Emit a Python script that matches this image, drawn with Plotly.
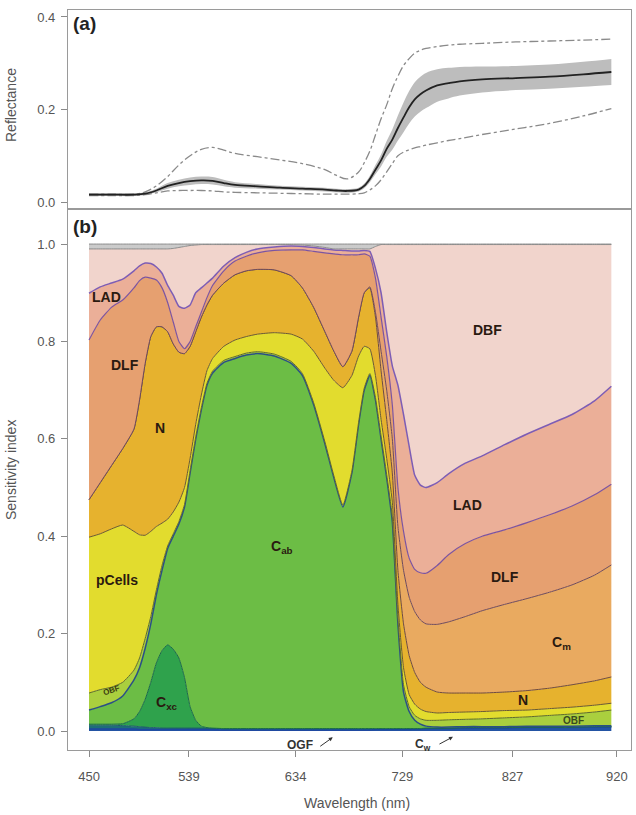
import plotly.graph_objects as go

# ---------------- Panel (a): reflectance ----------------
wl_a = [450, 470, 490, 500, 510, 520, 530, 540, 550, 560, 570, 580, 600, 620, 640, 660, 670, 680,
        690, 695, 700, 705, 710, 715, 720, 725, 730, 735, 740, 745, 750, 760, 770, 780, 800, 830,
        860, 890, 915]
refl_mean = [0.016, 0.016, 0.016, 0.018, 0.025, 0.035, 0.041, 0.045, 0.047, 0.046, 0.041, 0.037,
             0.034, 0.031, 0.029, 0.027, 0.025, 0.024, 0.027, 0.035, 0.050, 0.070, 0.090, 0.115,
             0.135, 0.160, 0.183, 0.205, 0.222, 0.233, 0.241, 0.252, 0.257, 0.261, 0.265, 0.268,
             0.271, 0.276, 0.281]
refl_sd = [0.003, 0.003, 0.003, 0.003, 0.004, 0.006, 0.007, 0.008, 0.008, 0.008, 0.007, 0.006,
           0.005, 0.004, 0.004, 0.004, 0.004, 0.004, 0.004, 0.005, 0.007, 0.010, 0.013, 0.017,
           0.022, 0.027, 0.032, 0.035, 0.037, 0.038, 0.038, 0.035, 0.033, 0.031, 0.028, 0.026,
           0.026, 0.027, 0.028]
refl_max = [0.017, 0.017, 0.017, 0.022, 0.035, 0.055, 0.080, 0.100, 0.114, 0.118, 0.112, 0.105,
            0.098, 0.091, 0.083, 0.070, 0.058, 0.050, 0.065, 0.085, 0.110, 0.145, 0.180, 0.210,
            0.245, 0.272, 0.295, 0.310, 0.322, 0.328, 0.332, 0.336, 0.339, 0.341, 0.343, 0.346,
            0.348, 0.350, 0.352]
refl_min = [0.014, 0.014, 0.014, 0.016, 0.020, 0.024, 0.025, 0.025, 0.025, 0.024, 0.022, 0.021,
            0.020, 0.019, 0.018, 0.017, 0.017, 0.017, 0.018, 0.020, 0.026, 0.035, 0.048, 0.065,
            0.083, 0.100, 0.108, 0.113, 0.117, 0.120, 0.123, 0.128, 0.133, 0.137, 0.146, 0.158,
            0.170, 0.186, 0.202]

# ---------------- Panel (b): cumulative sensitivity indices (upper edge of each layer) ----
wl_b = [450, 460, 470, 480, 490, 495, 500, 505, 510, 515,
        520, 525, 530, 535, 540, 545, 550, 555, 560, 570,
        580, 590, 600, 615, 630, 640, 650, 660, 668, 676,
        684, 690, 695, 700, 705, 710, 715, 720, 725, 730,
        735, 740, 745, 750, 760, 770, 785, 800, 820, 840,
        860, 880, 900, 915]

top_cw = [0.004, 0.004, 0.004, 0.004, 0.004, 0.003, 0.003, 0.003, 0.003, 0.003,
          0.003, 0.003, 0.003, 0.003, 0.003, 0.003, 0.003, 0.003, 0.003, 0.002,
          0.002, 0.002, 0.002, 0.002, 0.002, 0.002, 0.002, 0.002, 0.002, 0.002,
          0.002, 0.002, 0.002, 0.002, 0.003, 0.003, 0.003, 0.003, 0.003, 0.003,
          0.003, 0.004, 0.004, 0.005, 0.005, 0.005, 0.006, 0.006, 0.006, 0.007,
          0.007, 0.007, 0.008, 0.008]
top_ogf = [0.012, 0.012, 0.012, 0.011, 0.010, 0.009, 0.008, 0.007, 0.007, 0.006,
           0.006, 0.006, 0.006, 0.006, 0.006, 0.006, 0.006, 0.006, 0.006, 0.005,
           0.005, 0.005, 0.005, 0.005, 0.005, 0.005, 0.005, 0.005, 0.005, 0.005,
           0.005, 0.005, 0.005, 0.005, 0.005, 0.005, 0.005, 0.005, 0.005, 0.005,
           0.005, 0.005, 0.005, 0.006, 0.006, 0.006, 0.007, 0.007, 0.007, 0.008,
           0.008, 0.008, 0.009, 0.009]
top_cxc = [0.014, 0.014, 0.014, 0.015, 0.025, 0.040, 0.065, 0.100, 0.140, 0.165,
           0.177, 0.168, 0.150, 0.110, 0.050, 0.022, 0.010, 0.007, 0.006, 0.005,
           0.005, 0.005, 0.005, 0.005, 0.005, 0.005, 0.005, 0.005, 0.005, 0.005,
           0.005, 0.005, 0.005, 0.005, 0.005, 0.005, 0.005, 0.005, 0.005, 0.005,
           0.005, 0.005, 0.005, 0.006, 0.006, 0.006, 0.007, 0.007, 0.007, 0.008,
           0.008, 0.008, 0.009, 0.009]
top_cab = [0.043, 0.050, 0.058, 0.072, 0.105, 0.130, 0.170, 0.220, 0.280, 0.330,
           0.375, 0.400, 0.425, 0.460, 0.530, 0.600, 0.660, 0.710, 0.735, 0.757,
           0.765, 0.772, 0.775, 0.770, 0.755, 0.730, 0.670, 0.590, 0.520, 0.460,
           0.530, 0.630, 0.700, 0.730, 0.680, 0.600, 0.520, 0.430, 0.220, 0.080,
           0.040, 0.022, 0.014, 0.010, 0.008, 0.008, 0.009, 0.009, 0.009, 0.010,
           0.010, 0.010, 0.011, 0.011]
top_obf = [0.078, 0.085, 0.090, 0.100, 0.125, 0.150, 0.190, 0.235, 0.290, 0.340,
           0.380, 0.405, 0.430, 0.465, 0.535, 0.604, 0.664, 0.714, 0.739, 0.761,
           0.769, 0.776, 0.779, 0.774, 0.759, 0.734, 0.674, 0.594, 0.524, 0.464,
           0.534, 0.634, 0.704, 0.734, 0.685, 0.606, 0.527, 0.440, 0.232, 0.095,
           0.050, 0.032, 0.025, 0.022, 0.022, 0.023, 0.024, 0.025, 0.027, 0.029,
           0.032, 0.035, 0.039, 0.043]
top_pcells = [0.398, 0.405, 0.415, 0.423, 0.410, 0.403, 0.402, 0.410, 0.420, 0.427,
              0.435, 0.450, 0.470, 0.500, 0.560, 0.630, 0.690, 0.740, 0.765, 0.790,
              0.803, 0.810, 0.815, 0.818, 0.815, 0.805, 0.780, 0.745, 0.720, 0.705,
              0.730, 0.770, 0.790, 0.785, 0.730, 0.640, 0.560, 0.470, 0.260, 0.130,
              0.075, 0.055, 0.045, 0.040, 0.037, 0.038, 0.039, 0.040, 0.042, 0.043,
              0.046, 0.049, 0.053, 0.057]
top_n = [0.475, 0.510, 0.545, 0.580, 0.620, 0.680, 0.755, 0.810, 0.830, 0.830,
         0.820, 0.795, 0.778, 0.775, 0.790, 0.820, 0.850, 0.875, 0.895, 0.920,
         0.937, 0.945, 0.948, 0.947, 0.935, 0.910, 0.870, 0.820, 0.780, 0.748,
         0.780, 0.850, 0.900, 0.910, 0.850, 0.740, 0.640, 0.530, 0.330, 0.220,
         0.155, 0.120, 0.100, 0.090, 0.080, 0.078, 0.078, 0.078, 0.080, 0.083,
         0.088, 0.095, 0.103, 0.111]
top_cm = [0.475, 0.510, 0.545, 0.580, 0.620, 0.680, 0.755, 0.810, 0.830, 0.830,
          0.820, 0.795, 0.778, 0.775, 0.790, 0.820, 0.850, 0.875, 0.895, 0.920,
          0.937, 0.945, 0.948, 0.947, 0.935, 0.910, 0.870, 0.820, 0.780, 0.748,
          0.780, 0.850, 0.900, 0.912, 0.860, 0.780, 0.700, 0.600, 0.420, 0.330,
          0.275, 0.245, 0.228, 0.220, 0.219, 0.224, 0.235, 0.247, 0.260, 0.272,
          0.285, 0.300, 0.320, 0.341]
top_dlf = [0.803, 0.844, 0.870, 0.885, 0.910, 0.925, 0.932, 0.930, 0.926, 0.910,
           0.880, 0.840, 0.800, 0.785, 0.800, 0.830, 0.860, 0.890, 0.915, 0.945,
           0.965, 0.975, 0.982, 0.987, 0.988, 0.988, 0.985, 0.982, 0.980, 0.978,
           0.978, 0.978, 0.980, 0.975, 0.930, 0.850, 0.770, 0.670, 0.500, 0.410,
           0.355, 0.332, 0.325, 0.324, 0.340, 0.362, 0.385, 0.400, 0.413, 0.428,
           0.444, 0.462, 0.485, 0.507]
top_lad = [0.899, 0.912, 0.920, 0.928, 0.945, 0.955, 0.961, 0.960, 0.953, 0.940,
           0.915, 0.895, 0.872, 0.868, 0.875, 0.900, 0.910, 0.920, 0.930, 0.955,
           0.972, 0.983, 0.990, 0.994, 0.996, 0.995, 0.993, 0.990, 0.988, 0.987,
           0.986, 0.986, 0.987, 0.985, 0.950, 0.900, 0.820, 0.750, 0.710, 0.650,
           0.585, 0.525, 0.505, 0.500, 0.510, 0.528, 0.550, 0.565, 0.588, 0.610,
           0.630, 0.650, 0.678, 0.708]
top_dbf = [0.990, 0.990, 0.990, 0.990, 0.990, 0.990, 0.990, 0.990, 0.990, 0.990,
           0.990, 0.991, 0.993, 0.995, 0.997, 0.998, 0.999, 0.999, 0.999, 0.999,
           0.999, 0.999, 0.999, 0.999, 0.999, 0.998, 0.996, 0.993, 0.990, 0.990,
           0.990, 0.990, 0.990, 0.990, 0.995, 0.999, 0.999, 0.999, 0.999, 0.999,
           0.999, 0.999, 0.999, 0.999, 0.999, 0.999, 0.999, 0.999, 0.999, 0.999,
           0.999, 0.999, 0.999, 0.999]
top_other = [1.0] * len(wl_b)

layer_names = ["Cw", "OGF", "Cxc", "Cab", "OBF", "pCells", "N", "Cm", "DLF", "LAD", "DBF", "other"]
layer_tops = [top_cw, top_ogf, top_cxc, top_cab, top_obf, top_pcells, top_n, top_cm,
              top_dlf, top_lad, top_dbf, top_other]
layer_fill = ["#2353A3", "#1E6E78", "#2FA24C", "#6CBD45", "#AACF3E", "#E2DC2E", "#E6B22E",
              "#E9AA60", "#E6A070", "#EBAF98", "#F1D4CC", "#CBCBCB"]
layer_line = ["#1F47A0", "#205A6E", "#1B6A4A", "#2A4F86", "#5E6B2A", "#6A5A30", "#6E4A3E",
              "#6E4A5A", "#7C54A0", "#7D5DB5", "#8C8C8C", "#8C8C8C"]
layer_width = [1.5, 1.0, 1.0, 1.5, 1.0, 1.0, 1.0, 1.0, 1.2, 1.5, 1.0, 1.0]

x_ticks = [450, 539, 634, 729, 827, 920]
y_ticks_a = [0.0, 0.2, 0.4]
y_ticks_b = [0.0, 0.2, 0.4, 0.6, 0.8, 1.0]

FONT = "Liberation Sans, Arial, sans-serif"
fig = go.Figure()

# ----- panel a traces -----
upper = [m + s for m, s in zip(refl_mean, refl_sd)]
lower = [m - s for m, s in zip(refl_mean, refl_sd)]
fig.add_trace(go.Scatter(x=wl_a, y=upper, mode="lines", line=dict(width=0, color="#BDBDBD"),
                         line_shape="spline", showlegend=False, xaxis="x", yaxis="y"))
fig.add_trace(go.Scatter(x=wl_a, y=lower, mode="lines", line=dict(width=0, color="#BDBDBD"),
                         fill="tonexty", fillcolor="#BDBDBD", line_shape="spline",
                         showlegend=False, xaxis="x", yaxis="y"))
for series in (refl_max, refl_min):
    fig.add_trace(go.Scatter(x=wl_a, y=series, mode="lines", line_shape="spline",
                             line=dict(color="#8A8A8A", width=1.3, dash="dashdot"),
                             showlegend=False, xaxis="x", yaxis="y"))
fig.add_trace(go.Scatter(x=wl_a, y=refl_mean, mode="lines", line_shape="spline",
                         line=dict(color="#222222", width=1.8),
                         showlegend=False, xaxis="x", yaxis="y"))

# ----- panel b traces -----
for i, (name, tops) in enumerate(zip(layer_names, layer_tops)):
    fig.add_trace(go.Scatter(
        x=wl_b, y=tops, mode="lines", name=name,
        line=dict(color=layer_line[i], width=layer_width[i], shape="spline", smoothing=0.5),
        fill="tozeroy" if i == 0 else "tonexty", fillcolor=layer_fill[i],
        showlegend=False, xaxis="x2", yaxis="y2"))

# ----- axes -----
x_range = [431.3, 932.5]
axis_common = dict(showline=True, linecolor="#9A9A9A", linewidth=1.2, mirror=True,
                   showgrid=False, zeroline=False, ticks="outside", tickcolor="#8A8A8A",
                   ticklen=6, tickfont=dict(family=FONT, size=13, color="#555555"))
split = 541 / 740
fig.update_layout(
    width=636, height=815,
    margin=dict(l=68, r=5, t=10, b=65),
    paper_bgcolor="white", plot_bgcolor="white",
    font=dict(family=FONT),
    xaxis=dict(**{**axis_common, "ticks": ""}, range=x_range, domain=[0, 1], anchor="y",
               showticklabels=False),
    yaxis=dict(**axis_common, range=[-0.015, 0.415], domain=[split, 1], anchor="x",
               tickvals=y_ticks_a, ticktext=[f"{v:.1f}" for v in y_ticks_a],
               ticklabelstandoff=3),
    xaxis2=dict(**axis_common, range=x_range, domain=[0, 1], anchor="y2",
                tickvals=x_ticks, ticktext=[str(v) for v in x_ticks], ticklabelstandoff=8),
    yaxis2=dict(**axis_common, range=[-0.039, 1.072], domain=[0, split], anchor="x2",
                tickvals=y_ticks_b, ticktext=[f"{v:.1f}" for v in y_ticks_b],
                ticklabelstandoff=3),
)

ann = []
# panel tags
ann.append(dict(xref="paper", yref="paper", x=0.006, y=(750 - 23) / 740, text="<b>(a)</b>",
                showarrow=False, xanchor="left", yanchor="middle",
                font=dict(family=FONT, size=19, color="#222222")))
ann.append(dict(xref="paper", yref="paper", x=0.006, y=(750 - 226) / 740, text="<b>(b)</b>",
                showarrow=False, xanchor="left", yanchor="middle",
                font=dict(family=FONT, size=19, color="#222222")))
# axis titles (partly cut by the left edge, as in the reference)
ann.append(dict(xref="paper", yref="paper", x=(11 - 68) / 563, y=(750 - 105) / 740,
                text="Reflectance", textangle=-90, showarrow=False, xanchor="center",
                yanchor="middle", font=dict(family=FONT, size=14, color="#555555")))
ann.append(dict(xref="paper", yref="paper", x=(11 - 68) / 563, y=(750 - 470) / 740,
                text="Sensitivity index", textangle=-90, showarrow=False, xanchor="center",
                yanchor="middle", font=dict(family=FONT, size=14, color="#555555")))
ann.append(dict(xref="paper", yref="paper", x=(357 - 68) / 563, y=(750 - 803) / 740,
                text="Wavelength (nm)", showarrow=False, xanchor="center", yanchor="middle",
                font=dict(family=FONT, size=14, color="#555555")))

# layer labels
lab_x = [466, 482, 513, 475, 519, 622, 805, 787, 820, 871, 836]
lab_y = [0.891, 0.752, 0.622, 0.310, 0.057, 0.378, 0.823, 0.464, 0.316, 0.181, 0.064]
lab_t = ["LAD", "DLF", "N", "pCells", "C<sub>xc</sub>", "C<sub>ab</sub>", "DBF", "LAD", "DLF",
         "C<sub>m</sub>", "N"]
for x, y, t in zip(lab_x, lab_y, lab_t):
    ann.append(dict(xref="x2", yref="y2", x=x, y=y, text=f"<b>{t}</b>", showarrow=False,
                    font=dict(family=FONT, size=14, color="#2A1A10")))
ann.append(dict(xref="x2", yref="y2", x=470, y=0.083, text="<b>OBF</b>", showarrow=False,
                textangle=-18, font=dict(family=FONT, size=8, color="#3A3A10")))
ann.append(dict(xref="x2", yref="y2", x=881, y=0.022, text="<b>OBF</b>", showarrow=False,
                font=dict(family=FONT, size=10, color="#3A4A20")))
# bottom labels with arrows
ann.append(dict(xref="x2", yref="y2", x=638, y=-0.029, text="<b>OGF</b>", showarrow=False,
                font=dict(family=FONT, size=12, color="#333333")))
ann.append(dict(xref="x2", yref="y2", x=667, y=-0.013, ax=-14, ay=10, text="",
                showarrow=True, arrowhead=2, arrowsize=0.8, arrowwidth=1, arrowcolor="#333333"))
ann.append(dict(xref="x2", yref="y2", x=747, y=-0.029, text="<b>C<sub>w</sub></b>",
                showarrow=False, font=dict(family=FONT, size=12, color="#333333")))
ann.append(dict(xref="x2", yref="y2", x=774, y=-0.012, ax=-15, ay=8, text="",
                showarrow=True, arrowhead=2, arrowsize=0.8, arrowwidth=1, arrowcolor="#333333"))
fig.update_layout(annotations=ann)

fig.write_html("out.html")
